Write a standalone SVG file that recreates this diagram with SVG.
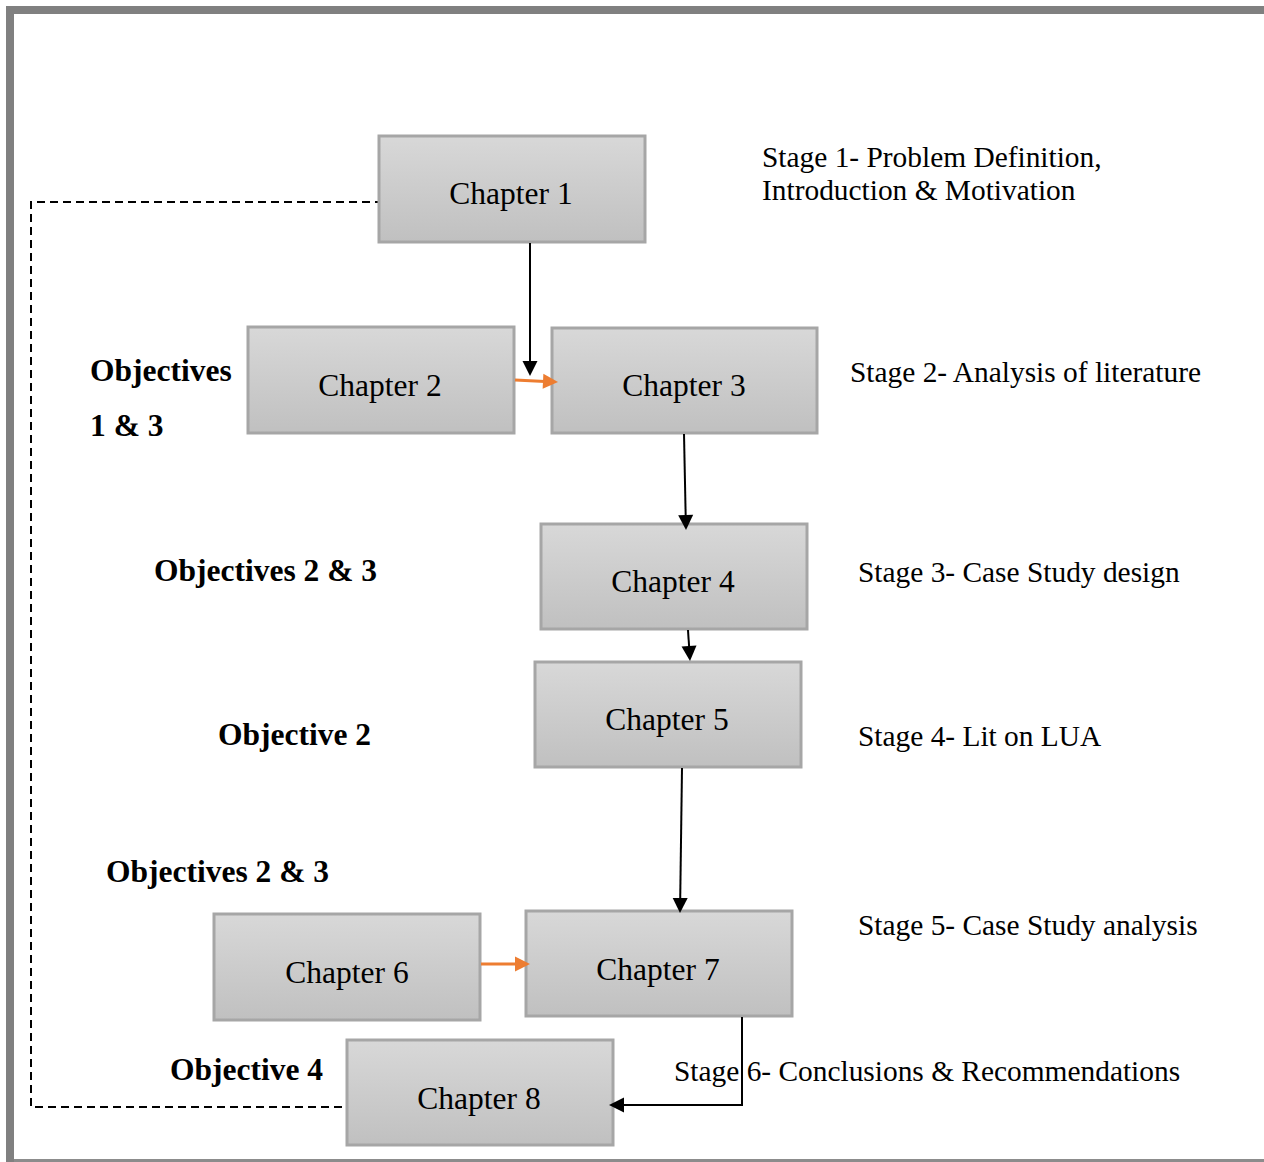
<svg xmlns="http://www.w3.org/2000/svg" width="1264" height="1162" viewBox="0 0 1264 1162">
  <defs>
    <linearGradient id="boxFill" x1="0" y1="0" x2="0" y2="1">
      <stop offset="0" stop-color="#d8d8d8"/>
      <stop offset="1" stop-color="#c0c0c0"/>
    </linearGradient>
    <!-- arrowhead with its tip at the origin, pointing along +x -->
    <path id="head" d="M0,0 L-15,-7.5 L-15,7.5 z"/>
  </defs>
  <style>
    .box { fill: url(#boxFill); stroke: #a6a6a6; stroke-width: 3; }
    .chap { font-family: "Liberation Serif", "Times New Roman", serif; font-size: 31.5px; fill: #000; text-anchor: middle; }
    .stage { font-family: "Liberation Serif", "Times New Roman", serif; font-size: 29.4px; fill: #000; }
    .obj { font-family: "Liberation Serif", "Times New Roman", serif; font-size: 31.5px; font-weight: bold; fill: #000; }
    .link { fill: none; stroke: #000; stroke-width: 2; }
    .linkOrange { fill: none; stroke: #ed7d31; stroke-width: 3; }
    .headBlack { fill: #000; }
    .headOrange { fill: #ed7d31; }
    .dash { fill: none; stroke: #000; stroke-width: 2; stroke-dasharray: 8 5; }
  </style>

  <!-- page frame -->
  <rect x="0" y="0" width="1264" height="1162" fill="#fff"/>
  <rect x="6" y="6" width="1258" height="8" fill="#808080"/>
  <rect x="6" y="6" width="8" height="1156" fill="#808080"/>
  <rect x="14" y="1159" width="1250" height="3" fill="#8c8c8c"/>

  <!-- feedback loop runs behind the boxes -->
  <path class="dash" d="M383,202 H31 V1107 H346"/>

  <!-- chapters -->
  <g id="chapter1">
    <rect class="box" x="379" y="136" width="266" height="106"/>
    <text class="chap" x="511" y="204">Chapter 1</text>
  </g>
  <g id="chapter2">
    <rect class="box" x="248" y="327" width="266" height="106"/>
    <text class="chap" x="380" y="396">Chapter 2</text>
  </g>
  <g id="chapter3">
    <rect class="box" x="552" y="328" width="265" height="105"/>
    <text class="chap" x="684" y="396">Chapter 3</text>
  </g>
  <g id="chapter4">
    <rect class="box" x="541" y="524" width="266" height="105"/>
    <text class="chap" x="673" y="592">Chapter 4</text>
  </g>
  <g id="chapter5">
    <rect class="box" x="535" y="662" width="266" height="105"/>
    <text class="chap" x="667" y="730">Chapter 5</text>
  </g>
  <g id="chapter6">
    <rect class="box" x="214" y="914" width="266" height="106"/>
    <text class="chap" x="347" y="983">Chapter 6</text>
  </g>
  <g id="chapter7">
    <rect class="box" x="526" y="911" width="266" height="105"/>
    <text class="chap" x="658" y="980">Chapter 7</text>
  </g>
  <g id="chapter8">
    <rect class="box" x="347" y="1040" width="266" height="105"/>
    <text class="chap" x="479" y="1109">Chapter 8</text>
  </g>

  <!-- connectors, drawn over the box edges -->
  <g id="connectors">
    <path class="link" d="M530,243 V363"/>
    <use href="#head" class="headBlack" transform="translate(530,376) rotate(90)"/>

    <path class="linkOrange" d="M515,380 L545,381.4"/>
    <use href="#head" class="headOrange" transform="translate(558,382) rotate(2.7)"/>

    <path class="link" d="M684,434 L685.7,517"/>
    <use href="#head" class="headBlack" transform="translate(686,530) rotate(88.8)"/>

    <path class="link" d="M688,630 L689.2,648"/>
    <use href="#head" class="headBlack" transform="translate(690,661) rotate(86.3)"/>

    <path class="link" d="M682,768 L680.2,900"/>
    <use href="#head" class="headBlack" transform="translate(680,913) rotate(90.8)"/>

    <path class="linkOrange" d="M481,964 H517"/>
    <use href="#head" class="headOrange" transform="translate(530,964)"/>

    <path class="link" d="M742,1017 V1105 H622"/>
    <use href="#head" class="headBlack" transform="translate(609,1105) rotate(180)"/>
  </g>

  <!-- stage descriptions -->
  <g id="stages">
    <text class="stage" x="762" y="167">Stage 1- Problem Definition,</text>
    <text class="stage" x="762" y="200">Introduction &amp; Motivation</text>
    <text class="stage" x="850" y="382">Stage 2- Analysis of literature</text>
    <text class="stage" x="858" y="582">Stage 3- Case Study design</text>
    <text class="stage" x="858" y="746">Stage 4- Lit on LUA</text>
    <text class="stage" x="858" y="935">Stage 5- Case Study analysis</text>
    <text class="stage" x="674" y="1081">Stage 6- Conclusions &amp; Recommendations</text>
  </g>

  <!-- objectives -->
  <g id="objectives">
    <text class="obj" x="90" y="381">Objectives</text>
    <text class="obj" x="90" y="436">1 &amp; 3</text>
    <text class="obj" x="154" y="581">Objectives 2 &amp; 3</text>
    <text class="obj" x="218" y="745">Objective 2</text>
    <text class="obj" x="106" y="882">Objectives 2 &amp; 3</text>
    <text class="obj" x="170" y="1080">Objective 4</text>
  </g>
</svg>
